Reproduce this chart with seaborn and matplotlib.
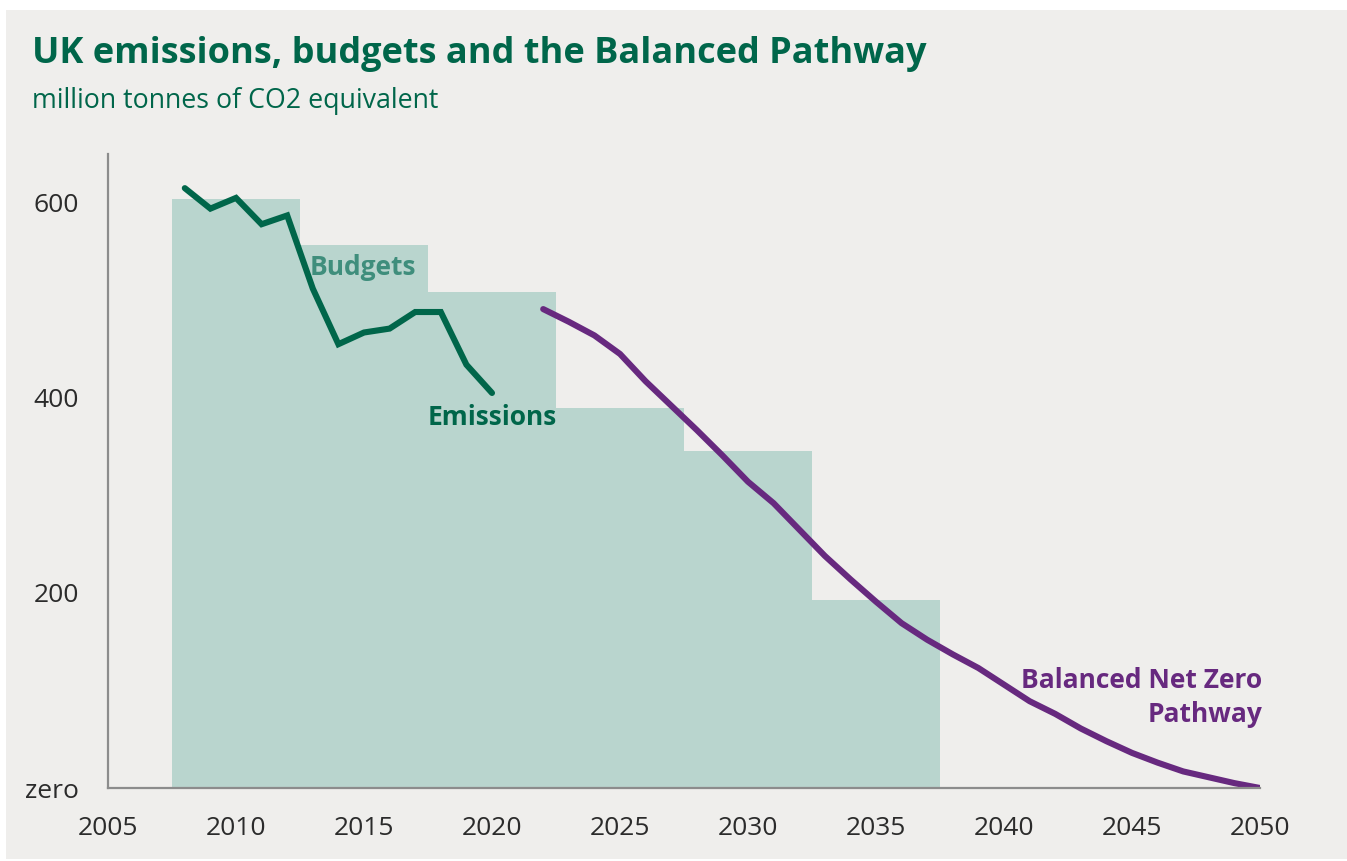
import matplotlib
matplotlib.use("Agg")
import matplotlib.pyplot as plt
import seaborn as sns
import pandas as pd
from matplotlib.patches import Rectangle

# Carbon budget periods (first year of each five-year budget) and annual average budget
budget_start = [2008, 2013, 2018, 2023, 2028, 2033]
budget_level = [603.6, 556.4, 508.8, 390.0, 345.0, 193.0]

# Historic UK emissions
emis_years = list(range(2008, 2021))
emis_values = [615, 594, 605, 578, 587, 512, 455, 467, 471, 488, 488, 434, 405]

# Balanced Net Zero Pathway
path_years = list(range(2022, 2051))
path_values = [491, 478, 464, 445, 417, 392, 367, 341, 314, 292, 265, 238, 214,
               191, 169, 152, 137, 123, 106, 89, 76, 61, 48, 36, 26, 17, 11, 5, 0]

y_ticks = [0, 200, 400, 600]
y_ticklabels = ["zero", "200", "400", "600"]
x_ticks = list(range(2005, 2051, 5))

BG = "#efeeec"
GREEN = "#00664a"
TEAL = "#3f8e7c"
FILL = "#b9d5ce"
PURPLE = "#67297f"
AXIS = "#8c8c8c"
TEXT = "#2b2b2b"

sns.set_theme(style="white")
plt.rcParams["font.family"] = ["Open Sans", "DejaVu Sans"]

fig = plt.figure(figsize=(13.47, 8.61), dpi=100, facecolor="white")
# grey panel behind everything
fig.patches.append(Rectangle((6 / 1347, 2 / 861), 1 - 6 / 1347, 849 / 861,
                             transform=fig.transFigure, facecolor=BG,
                             edgecolor="none", zorder=-10))

ax = fig.add_axes([108 / 1347, 73 / 861, 1152 / 1347, 634 / 861])
ax.set_facecolor("none")

# budgets as steps spanning each five-year period
ax.bar([s - 0.5 for s in budget_start], budget_level, width=5, align="edge",
       color=FILL, edgecolor="none", zorder=1)

emis = pd.DataFrame({"year": emis_years, "value": emis_values})
path = pd.DataFrame({"year": path_years, "value": path_values})
sns.lineplot(data=emis, x="year", y="value", ax=ax, color=GREEN, linewidth=4.4,
             solid_capstyle="round", solid_joinstyle="miter", zorder=3)
sns.lineplot(data=path, x="year", y="value", ax=ax, color=PURPLE, linewidth=4.4,
             solid_capstyle="round", zorder=3)

ax.set_xlim(2005, 2050)
ax.set_ylim(0, 650)
ax.set_xticks(x_ticks)
ax.set_yticks(y_ticks)
ax.set_yticklabels(y_ticklabels)
ax.set_xlabel("")
ax.set_ylabel("")

for side in ("top", "right"):
    ax.spines[side].set_visible(False)
for side in ("left", "bottom"):
    ax.spines[side].set_color(AXIS)
    ax.spines[side].set_linewidth(1.6)
    ax.spines[side].set_zorder(4)

ax.tick_params(axis="both", which="major", direction="out", length=7, width=1.6,
               color=AXIS, labelcolor=TEXT, labelsize=19)
ax.tick_params(axis="x", pad=13)
ax.tick_params(axis="y", pad=14)
ax.grid(False)

label_kw = dict(fontweight="bold", fontsize=19, family=["Open Sans", "DejaVu Sans"])
ax.text(2014.95, 534, "Budgets", color=TEAL, ha="center", va="center", **label_kw)
ax.text(2020.0, 380, "Emissions", color=GREEN, ha="center", va="center", **label_kw)
ax.text(2050.1, 93, "Balanced Net Zero\nPathway", color=PURPLE, ha="right",
        va="center", linespacing=1.36, **label_kw)

fig.text(32 / 1347, 1 - 54 / 861, "UK emissions, budgets and the Balanced Pathway",
         color=GREEN, fontsize=26, fontweight="bold", family=["Open Sans", "DejaVu Sans"],
         ha="left", va="center")
fig.text(32 / 1347, 1 - 101 / 861, "million tonnes of CO2 equivalent",
         color=GREEN, fontsize=19.3, family=["Open Sans", "DejaVu Sans"],
         ha="left", va="center")

fig.savefig("out.png", dpi=100, facecolor="white")
